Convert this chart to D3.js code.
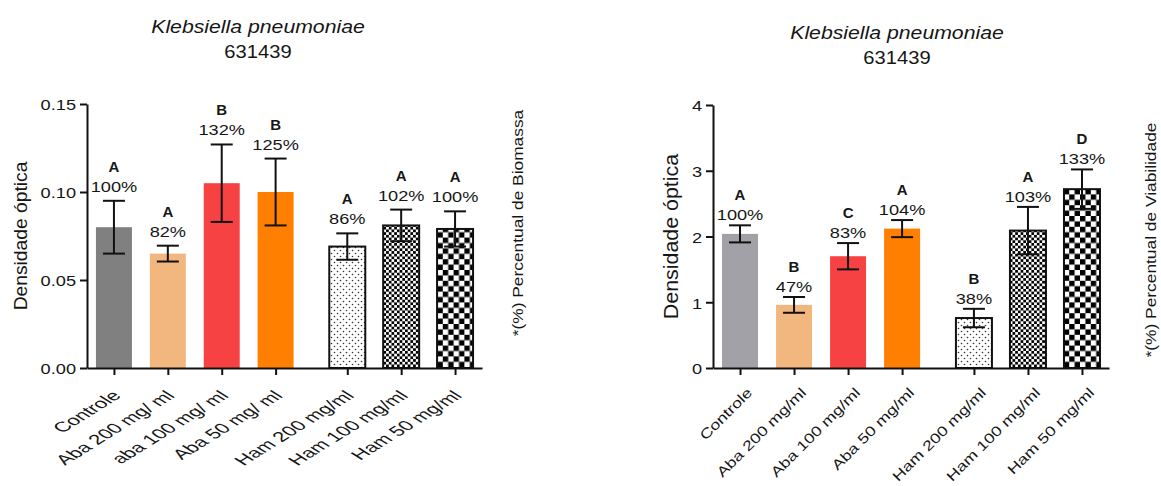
<!DOCTYPE html>
<html>
<head>
<meta charset="utf-8">
<script src="https://cdn.jsdelivr.net/npm/d3@7"></script>
<style>
    body { margin: 0; background: #fff; }
    svg text { font-family: "Liberation Sans", Arial, sans-serif; fill: #161616; }
</style>
</head>
<body>
<div id="chart"></div>
<script>
// Chart values
const titleSpecies = 'Klebsiella pneumoniae';
const titleStrain = '631439';

const categoriesBiomassa = ['Controle', 'Aba 200 mg/ ml', 'aba 100 mg/ ml', 'Aba 50 mg/ ml',
    'Ham 200 mg/ml', 'Ham 100 mg/ml', 'Ham 50 mg/ml'];
const biomassaMeans = [0.080, 0.065, 0.105, 0.100, 0.069, 0.081, 0.079];
const biomassaErrors = [0.015, 0.0045, 0.022, 0.019, 0.0075, 0.009, 0.010];
const biomassaPercent = ['100%', '82%', '132%', '125%', '86%', '102%', '100%'];
const biomassaLetters = ['A', 'A', 'B', 'B', 'A', 'A', 'A'];
const biomassaTicks = [0, 0.05, 0.10, 0.15];

const categoriesViabilidade = ['Controle', 'Aba 200 mg/ml', 'Aba 100 mg/ml', 'Aba 50 mg/ml',
    'Ham 200 mg/ml', 'Ham 100 mg/ml', 'Ham 50 mg/ml'];
const viabilidadeMeans = [2.04, 0.96, 1.70, 2.12, 0.76, 2.09, 2.72];
const viabilidadeErrors = [0.13, 0.12, 0.20, 0.13, 0.14, 0.36, 0.30];
const viabilidadePercent = ['100%', '47%', '83%', '104%', '38%', '103%', '133%'];
const viabilidadeLetters = ['A', 'B', 'C', 'A', 'B', 'A', 'D'];
const viabilidadeTicks = [0, 1, 2, 3, 4];

const svg = d3.select('#chart').append('svg')
    .attr('width', 1161)
    .attr('height', 486);

// fill patterns for the Ham bars
const defs = svg.append('defs');

const dots = defs.append('pattern').attr('id', 'dots')
    .attr('patternUnits', 'userSpaceOnUse').attr('width', 6).attr('height', 6);
dots.append('rect').attr('width', 6).attr('height', 6).attr('fill', '#fff');
dots.append('circle').attr('cx', 1.5).attr('cy', 1.5).attr('r', 0.8).attr('fill', '#333');
dots.append('circle').attr('cx', 4.5).attr('cy', 4.5).attr('r', 0.8).attr('fill', '#333');

function checker(id, size) {
    const p = defs.append('pattern').attr('id', id)
        .attr('patternUnits', 'userSpaceOnUse').attr('width', size * 2).attr('height', size * 2);
    p.append('rect').attr('width', size * 2).attr('height', size * 2).attr('fill', '#fff');
    p.append('rect').attr('width', size).attr('height', size).attr('fill', '#000');
    p.append('rect').attr('x', size).attr('y', size).attr('width', size).attr('height', size).attr('fill', '#000');
}
checker('fineCheck', 2.7);
checker('coarseCheck', 5.4);

const STRETCH = 1.3;

function drawChart(cfg) {
    const g = svg.append('g');

    // extra space between the Aba and Ham groups
    const slots = cfg.categories.map((c, i) => i + (i >= 4 ? 0.33 : 0));
    const x = d3.scaleLinear().domain([-0.5, 6.83]).range([cfg.left, cfg.right]);
    const y = d3.scaleLinear().domain(cfg.domain).range([cfg.bottom, cfg.top]);
    const barW = 36;

    const data = cfg.categories.map((c, i) => ({
        name: c, slot: slots[i], mean: cfg.means[i], err: cfg.errors[i],
        pct: cfg.percent[i], letter: cfg.letters[i], fill: cfg.fills[i]
    }));

    // bars
    g.selectAll('.bar').data(data).enter().append('rect')
        .attr('x', d => x(d.slot) - barW / 2)
        .attr('y', d => y(d.mean))
        .attr('width', barW)
        .attr('height', d => y(0) - y(d.mean))
        .attr('fill', d => d.fill)
        .attr('stroke', d => d.fill.startsWith('url') ? '#111' : 'none')
        .attr('stroke-width', 2);

    // error bars
    const eb = g.selectAll('.err').data(data).enter().append('g')
        .attr('stroke', '#111').attr('stroke-width', 2);
    eb.append('line')
        .attr('x1', d => x(d.slot)).attr('x2', d => x(d.slot))
        .attr('y1', d => y(d.mean - d.err)).attr('y2', d => y(d.mean + d.err));
    eb.append('line')
        .attr('x1', d => x(d.slot) - 11).attr('x2', d => x(d.slot) + 11)
        .attr('y1', d => y(d.mean + d.err)).attr('y2', d => y(d.mean + d.err));
    eb.append('line')
        .attr('x1', d => x(d.slot) - 11).attr('x2', d => x(d.slot) + 11)
        .attr('y1', d => y(d.mean - d.err)).attr('y2', d => y(d.mean - d.err));

    // percent and letter labels
    g.selectAll('.pct').data(data).enter().append('text')
        .attr('text-anchor', 'middle')
        .style('font-size', '14px')
        .attr('transform', d => `translate(${x(d.slot)},${y(d.mean + d.err) - cfg.pctGap}) scale(${STRETCH},1)`)
        .text(d => d.pct);
    g.selectAll('.letter').data(data).enter().append('text')
        .attr('text-anchor', 'middle')
        .style('font-size', '15px')
        .style('font-weight', 'bold')
        .attr('transform', d => `translate(${x(d.slot)},${y(d.mean + d.err) - cfg.pctGap - 20})`)
        .text(d => d.letter);

    // axes
    const yAxis = g.append('g')
        .attr('transform', `translate(${cfg.left},0)`)
        .call(d3.axisLeft(y).tickValues(cfg.ticks).tickFormat(cfg.tickFormat)
            .tickSize(7).tickSizeOuter(0));
    const xAxis = g.append('g')
        .attr('transform', `translate(0,${cfg.bottom})`)
        .call(d3.axisBottom(x).tickValues(slots).tickFormat((d, i) => cfg.categories[i])
            .tickSize(7).tickSizeOuter(0));

    [yAxis, xAxis].forEach(a => {
        a.select('.domain').attr('stroke', '#111').attr('stroke-width', 2);
        a.selectAll('.tick line').attr('stroke', '#111').attr('stroke-width', 2);
        a.selectAll('text').style('font-family', '"Liberation Sans", Arial, sans-serif')
            .style('font-size', '14px').attr('fill', '#161616');
    });
    yAxis.selectAll('.tick text')
        .attr('x', null).attr('dy', '0.35em')
        .attr('transform', `translate(-11,1) scale(${STRETCH},1)`);
    xAxis.selectAll('.tick text')
        .attr('y', null).attr('dy', '0.35em')
        .attr('text-anchor', 'end')
        .attr('transform', cfg.labelTransform);

    // titles
    g.append('text')
        .attr('text-anchor', 'middle')
        .style('font-size', '18px').style('font-style', 'italic')
        .attr('transform', `translate(${cfg.titleX},${cfg.titleY}) scale(1.18,1)`)
        .text(titleSpecies);
    g.append('text')
        .attr('text-anchor', 'middle')
        .style('font-size', '18px')
        .attr('transform', `translate(${cfg.titleX},${cfg.titleY + 25}) scale(1.12,1)`)
        .text(titleStrain);

    g.append('text')
        .attr('text-anchor', 'middle')
        .style('font-size', cfg.yTitleSize + 'px')
        .attr('transform', `translate(${cfg.yTitleX},${(cfg.top + cfg.bottom) / 2}) rotate(-90) scale(1.07,1)`)
        .text('Densidade óptica');

    g.append('text')
        .attr('text-anchor', 'middle')
        .style('font-size', '14px')
        .attr('transform', `translate(${cfg.sideX},${cfg.sideY}) rotate(-90) scale(1.24,1)`)
        .text(cfg.sideLabel);
}

drawChart({
    categories: categoriesBiomassa,
    means: biomassaMeans,
    errors: biomassaErrors,
    percent: biomassaPercent,
    letters: biomassaLetters,
    ticks: biomassaTicks,
    tickFormat: d3.format('.2f'),
    domain: [0, 0.15],
    fills: ['#808080', '#f1b77f', '#f64242', '#ff8000', 'url(#dots)', 'url(#fineCheck)', 'url(#coarseCheck)'],
    left: 87, right: 482, top: 104, bottom: 368,
    pctGap: 9,
    // labels here look squashed: rotated 45deg and then widened
    labelTransform: 'translate(2,25) scale(1.6,1) rotate(-45)',
    titleX: 258, titleY: 33,
    yTitleX: 27, yTitleSize: 18,
    sideX: 523, sideY: 223,
    sideLabel: '*(%) Percentual de Biomassa'
});

drawChart({
    categories: categoriesViabilidade,
    means: viabilidadeMeans,
    errors: viabilidadeErrors,
    percent: viabilidadePercent,
    letters: viabilidadeLetters,
    ticks: viabilidadeTicks,
    tickFormat: d3.format('d'),
    domain: [0, 4],
    fills: ['#a1a1a7', '#f1b77f', '#f64242', '#ff8000', 'url(#dots)', 'url(#fineCheck)', 'url(#coarseCheck)'],
    left: 713, right: 1109, top: 105, bottom: 368,
    pctGap: 5,
    labelTransform: `translate(9,22) rotate(-45) scale(1.27,1)`,
    titleX: 897, titleY: 39,
    yTitleX: 678, yTitleSize: 20,
    sideX: 1156, sideY: 240,
    sideLabel: '*(%) Percentual de Viabilidade'
});
</script>
</body>
</html>
